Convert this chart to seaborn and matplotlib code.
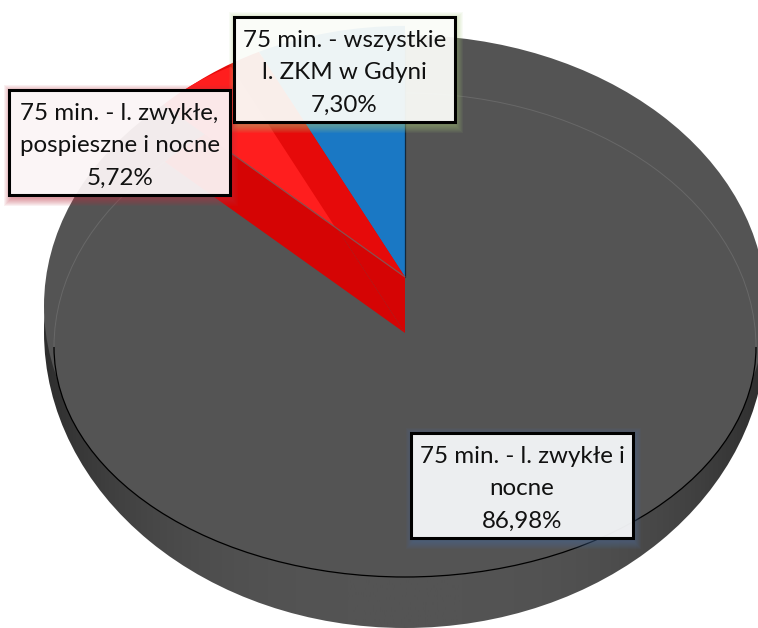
import numpy as np
import matplotlib
matplotlib.use("Agg")
import matplotlib.pyplot as plt
from matplotlib.patches import Ellipse, Arc, Rectangle
import seaborn as sns

# Values
segments = ["75 min. - wszystkie\nl. ZKM w Gdyni",
            "75 min. - l. zwykłe,\npospieszne i nocne",
            "75 min. - l. zwykłe i\nnocne"]
shares = [7.30, 5.72, 86.98]
share_labels = ["7,30%", "5,72%", "86,98%"]

sns.set_theme(style="white")
plt.rcParams["font.family"] = ["Lato", "DejaVu Sans"]

W, H = 758, 628
K = 1.314  # squash of the pie, the 3d tilt


def yd(py):
    return (H - py) * K


fig = plt.figure(figsize=(7.58, 6.28), dpi=100)
ax = fig.add_axes([0, 0, 1, 1])

GRAY = "#545454"
outer_top = Ellipse((405, yd(306)), 722, 542 * K, fc=GRAY, ec="none", zorder=2)
outer_low = Ellipse((405, yd(332)), 722, 592 * K, fc="none", ec="none", zorder=1)
ax.add_patch(outer_low)
ax.add_patch(outer_top)

# side wall, darker toward both ends
shade = np.abs(np.linspace(-1, 1, 300)) ** 3
wall = ax.imshow(shade[None, :], extent=(44, 766, 0, H * K), aspect="auto",
                 cmap=sns.blend_palette([GRAY, "#2e2e2e"], as_cmap=True),
                 vmin=0, vmax=1, zorder=1)
wall.set_clip_path(outer_low)

# top face, front part of the rim
front = Ellipse((405, yd(347)), 702, 460 * K, fc=GRAY, ec="none", zorder=2)
ax.add_patch(front)


def pie_layer(colors, apex_x, apex_y, radius, z):
    wedges, _ = ax.pie(shares, colors=colors, center=(apex_x, yd(apex_y)),
                       radius=radius, startangle=90, counterclock=True,
                       wedgeprops={"linewidth": 0}, frame=True)
    for w in wedges:
        w.set_zorder(z)
        w.set_clip_path(outer_top)
    return wedges


# lower bevel under both small slices, then the slices, then the lit facet
pie_layer(["#d50404", "#d50404", "none"], 405, 333, 329, 3)
pie_layer(["#1a78c4", "#e60a0a", "none"], 405, 277, 330, 4)
pie_layer(["none", "#ff1e1e", "none"], 335, 227, 235, 5)

# thin edges
ang2 = np.deg2rad(360 * (shares[0] + shares[1]) / 100)
edge1, = ax.plot([405, 405], [yd(277), yd(277) + 330 * K], color="#12283c", lw=0.9, zorder=6)
edge1.set_clip_path(outer_top)
ax.plot([405, 405 - 240 * np.sin(ang2)], [yd(277), yd(277) + 240 * np.cos(ang2)],
        color="#8a5050", lw=0.9, zorder=6)

# rim lines
ax.add_patch(Arc((405, yd(347)), 702, 508 * K, theta1=0, theta2=180,
                 ec="#686868", lw=0.7, zorder=2.5))
ax.add_patch(Arc((405, yd(347)), 702, 460 * K, theta1=180, theta2=360,
                 ec="black", lw=0.9, zorder=2.5))

# label boxes with coloured glow
boxes = [(234, 17, 221, 105), (9, 90, 221, 105), (411, 433, 222, 105)]
glows = ["#a8c878", "#c03040", "#4a6fa0"]
for box, name, pct, glow in zip(boxes, segments, share_labels, glows):
    x, y, w, h = box
    for g in range(1, 9):
        ax.add_patch(Rectangle((x - g + 3, yd(y + h + g + 3)), w + 2 * g - 3, (h + 2 * g) * K,
                               fc=glow, ec="none", alpha=0.07, zorder=7))
    ax.add_patch(Rectangle((x, yd(y + h)), w, h * K, fc="white", ec="none",
                           alpha=0.9, zorder=8))
    ax.add_patch(Rectangle((x, yd(y + h)), w, h * K, fc="none", ec="black",
                           lw=2.2, zorder=9))
    ax.text(x + w / 2, yd(y + h / 2 + 3), name + "\n" + pct, ha="center", va="center",
            fontsize=17.4, color="#111111", linespacing=1.67, zorder=10)

ax.set_aspect("auto")
ax.set_xlim(0, W)
ax.set_ylim(0, H * K)
ax.axis("off")

fig.savefig("out.png", dpi=100, facecolor="white")
